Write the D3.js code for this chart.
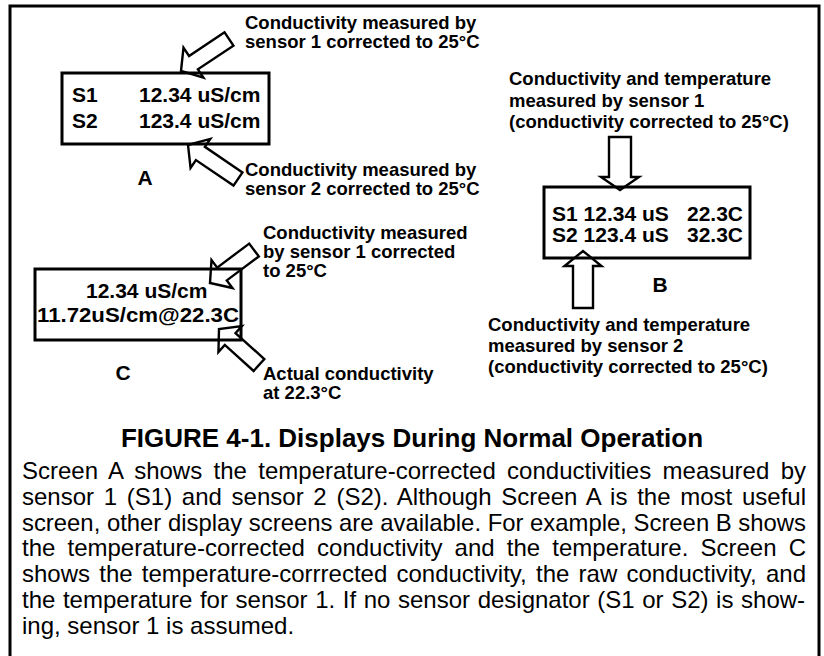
<!DOCTYPE html>
<html>
<head>
<meta charset="utf-8">
<script src="https://cdn.jsdelivr.net/npm/d3@7"></script>
<style>
  html, body { margin: 0; padding: 0; background: #fff; }
  svg { display: block; }
</style>
</head>
<body>
<script>
// ---------- content ----------
const screenALabels = ["S1", "S2"];
const screenAValues = ["12.34 uS/cm", "123.4 uS/cm"];
const screenBValues = ["S1 12.34 uS", "S2 123.4 uS"];
const screenBTemps = ["22.3C", "32.3C"];
const screenCLines = ["12.34 uS/cm", "11.72uS/cm@22.3C"];
const screenNames = ["A", "B", "C"];

const noteA1 = ["Conductivity measured by", "sensor 1 corrected to 25°C"];
const noteA2 = ["Conductivity measured by", "sensor 2 corrected to 25°C"];
const noteB1 = ["Conductivity and temperature", "measured by sensor 1", "(conductivity corrected to 25°C)"];
const noteB2 = ["Conductivity and temperature", "measured by sensor 2", "(conductivity corrected to 25°C)"];
const noteC1 = ["Conductivity measured", "by sensor 1 corrected", "to 25°C"];
const noteC2 = ["Actual conductivity", "at 22.3°C"];

const figureTitle = "FIGURE 4-1. Displays During Normal Operation";
const captionLines = [
  "Screen A shows the temperature-corrected conductivities measured by",
  "sensor 1 (S1) and sensor 2 (S2). Although Screen A is the most useful",
  "screen, other display screens are available. For example, Screen B shows",
  "the temperature-corrected conductivity and the temperature. Screen C",
  "shows the temperature-corrrected conductivity, the raw conductivity, and",
  "the temperature for sensor 1. If no sensor designator (S1 or S2) is  show-",
  "ing, sensor 1 is assumed."
];

// ---------- drawing ----------
const W = 824, H = 656;
const sans = "'Liberation Sans', Arial, Helvetica, sans-serif";

const svg = d3.select("body").append("svg").attr("width", W).attr("height", H);
svg.append("rect").attr("width", W).attr("height", H).attr("fill", "#fff");

// outer frame (continues below the bottom edge)
svg.append("rect").attr("x", 10).attr("y", 6).attr("width", 809).attr("height", 670)
  .attr("fill", "none").attr("stroke", "#000").attr("stroke-width", 3);

function arrowPath(tail, tip, sw, hw, hl) {
  const dx = tip[0] - tail[0], dy = tip[1] - tail[1];
  const len = Math.hypot(dx, dy), ux = dx / len, uy = dy / len, nx = -uy, ny = ux;
  const bx = tip[0] - ux * hl, by = tip[1] - uy * hl;
  const pts = [
    [tail[0] + nx * sw / 2, tail[1] + ny * sw / 2],
    [bx + nx * sw / 2, by + ny * sw / 2],
    [bx + nx * hw / 2, by + ny * hw / 2],
    tip,
    [bx - nx * hw / 2, by - ny * hw / 2],
    [bx - nx * sw / 2, by - ny * sw / 2],
    [tail[0] - nx * sw / 2, tail[1] - ny * sw / 2]
  ];
  return d3.line()(pts) + "Z";
}

const arrows = [
  { tail: [229, 39], tip: [181, 71], sw: 16, hw: 36, hl: 15 },
  { tail: [238, 179], tip: [188, 145], sw: 16, hw: 35, hl: 15 },
  { tail: [620, 137], tip: [620, 190], sw: 22, hw: 38, hl: 13 },
  { tail: [583, 308], tip: [583, 251], sw: 20, hw: 37, hl: 15 },
  { tail: [254, 250], tip: [210, 283], sw: 16, hw: 35, hl: 15 },
  { tail: [259, 365], tip: [219, 329], sw: 16, hw: 35, hl: 15 }
];
svg.append("g").selectAll("path").data(arrows).join("path")
  .attr("d", d => arrowPath(d.tail, d.tip, d.sw, d.hw, d.hl))
  .attr("fill", "#fff").attr("stroke", "#000").attr("stroke-width", 2.4)
  .attr("stroke-linejoin", "miter");

// display boxes
const boxes = [
  { x: 62, y: 73, w: 207, h: 71 },
  { x: 544, y: 187, w: 206, h: 71 },
  { x: 35, y: 269, w: 206, h: 71 }
];
svg.append("g").selectAll("rect").data(boxes).join("rect")
  .attr("x", d => d.x).attr("y", d => d.y).attr("width", d => d.w).attr("height", d => d.h)
  .attr("fill", "none").attr("stroke", "#000").attr("stroke-width", 3);

const disp = svg.append("g").attr("font-family", sans).attr("font-weight", "bold")
  .attr("font-size", 21).attr("fill", "#000");

// Screen A
disp.selectAll(".al").data(screenALabels).join("text").attr("class", "al")
  .attr("x", 72).attr("y", (d, i) => 102 + i * 26).text(d => d);
disp.selectAll(".av").data(screenAValues).join("text").attr("class", "av")
  .attr("x", 139).attr("y", (d, i) => 102 + i * 26).text(d => d);
// Screen B
disp.selectAll(".bv").data(screenBValues).join("text").attr("class", "bv")
  .attr("x", 552).attr("y", (d, i) => 221 + i * 21).text(d => d);
disp.selectAll(".bt").data(screenBTemps).join("text").attr("class", "bt")
  .attr("x", 743).attr("text-anchor", "end").attr("y", (d, i) => 221 + i * 21).text(d => d);
// Screen C
disp.append("text").attr("x", 86).attr("y", 298).text(screenCLines[0]);
disp.append("text").attr("x", 37).attr("y", 322).attr("textLength", 202)
  .attr("lengthAdjust", "spacingAndGlyphs").text(screenCLines[1]);

// screen names
const namePos = [[145, 185], [660, 292], [123, 380]];
disp.selectAll(".nm").data(screenNames).join("text").attr("class", "nm")
  .attr("x", (d, i) => namePos[i][0]).attr("y", (d, i) => namePos[i][1])
  .attr("text-anchor", "middle").text(d => d);

// annotations
function note(lines, x, y0, dy) {
  const t = svg.append("text").attr("font-family", sans).attr("font-weight", "bold")
    .attr("font-size", 18.5).attr("fill", "#000");
  t.selectAll("tspan").data(lines).join("tspan")
    .attr("x", x).attr("y", (d, i) => y0 + i * dy).text(d => d);
}
note(noteA1, 245, 29, 19);
note(noteA2, 245, 176, 19);
note(noteB1, 509, 85, 21.5);
note(noteB2, 488, 331, 21);
note(noteC1, 263, 239, 19);
note(noteC2, 263, 380, 19);

// title
svg.append("text").attr("x", 412).attr("y", 447).attr("text-anchor", "middle")
  .attr("font-family", sans).attr("font-weight", "bold").attr("font-size", 26)
  .text(figureTitle);

// caption, justified
const capX0 = 22, capX1 = 806;
const cap = svg.append("g").attr("font-family", sans).attr("font-size", 24).attr("fill", "#000");
captionLines.forEach((line, i) => {
  const t = cap.append("text").attr("x", capX0).attr("y", 479 + i * 25.8).text(line);
  if (i < captionLines.length - 1) {
    const L = t.node().getComputedTextLength();
    const target = capX1 - capX0;
    const spaces = (line.match(/ /g) || []).length;
    if (L < target && spaces > 0) {
      t.style("word-spacing", ((target - L) / spaces) + "px");
    } else {
      t.attr("textLength", target).attr("lengthAdjust", "spacingAndGlyphs");
    }
  }
});
</script>
</body>
</html>
